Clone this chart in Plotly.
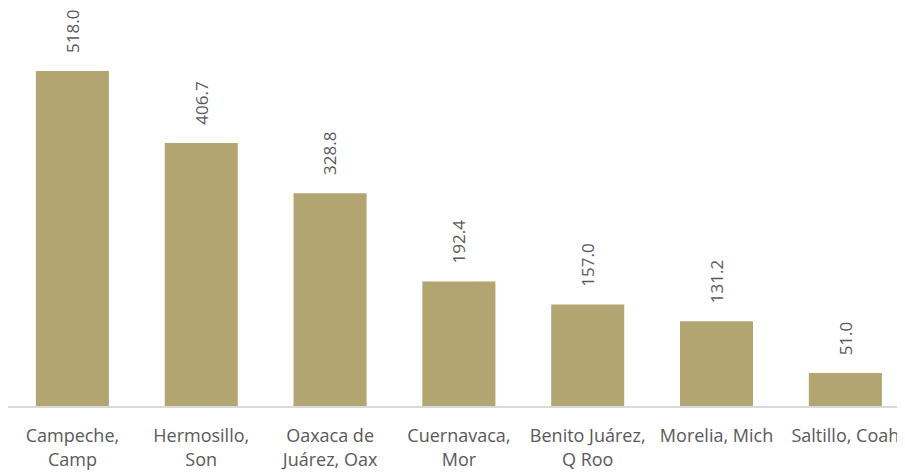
import plotly.graph_objects as go

# data
ciudades = ["Campeche,<br>Camp", "Hermosillo,<br>Son", "Oaxaca de<br>Juárez, Oax",
            "Cuernavaca,<br>Mor", "Benito Juárez,<br>Q Roo", "Morelia, Mich", "Saltillo, Coah"]
valores = [518.0, 406.7, 328.8, 192.4, 157.0, 131.2, 51.0]

color_barra = "#B3A572"
color_texto = "#595959"
fuente = "Open Sans"

fig = go.Figure()
fig.add_trace(go.Bar(x=list(range(len(ciudades))), y=valores,
                     marker=dict(color=color_barra, line=dict(width=0)),
                     width=0.567, hoverinfo="skip"))

# etiquetas de valor rotadas
for i, v in enumerate(valores):
    fig.add_annotation(x=i, y=v, text=f"{v:.1f}", textangle=-90,
                       showarrow=False, yanchor="bottom", yshift=16,
                       font=dict(family=fuente, size=17, color=color_texto))

# la página tiene 8px de margen en el body
fig.update_layout(
    width=897, height=466,
    margin=dict(l=0, r=0, t=2, b=68, autoexpand=False),
    plot_bgcolor="white", paper_bgcolor="white",
    showlegend=False,
    font=dict(family=fuente, size=17, color=color_texto),
)
fig.update_xaxes(range=[-0.5, 6.463], tickmode="array",
                 tickvals=list(range(len(ciudades))), ticktext=ciudades,
                 showline=True, linecolor="#D9D9D9", linewidth=1.5,
                 showgrid=False, ticks="", ticklabelstandoff=13, automargin=False,
                 tickfont=dict(family=fuente, size=18, color=color_texto))
fig.update_yaxes(range=[0, 612.3], visible=False, showgrid=False, automargin=False)

fig.write_html("out.html")
